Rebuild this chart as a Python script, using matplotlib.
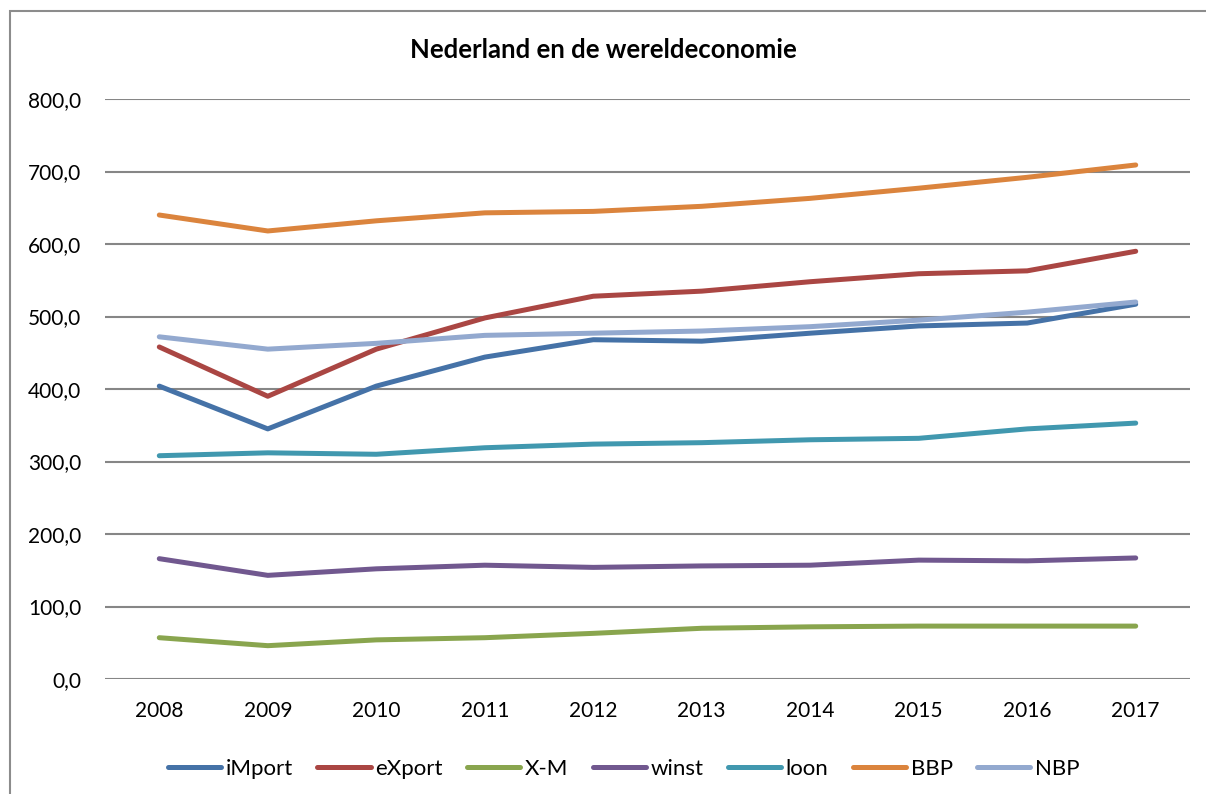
import matplotlib.pyplot as plt
from matplotlib.patches import Rectangle
from matplotlib.ticker import FuncFormatter

plt.rcParams['font.family'] = ['Lato', 'DejaVu Sans']

jaren = ["2008", "2009", "2010", "2011", "2012", "2013", "2014", "2015", "2016", "2017"]

iMport = [404, 345, 404, 444, 468, 466, 477, 487, 491, 517]
eXport = [458, 390, 455, 498, 528, 535, 548, 559, 563, 590]
x_min_m = [57, 46, 54, 57, 63, 70, 72, 73, 73, 73]
winst = [166, 143, 152, 157, 154, 156, 157, 164, 163, 167]
loon = [308, 312, 310, 319, 324, 326, 330, 332, 345, 353]
bbp = [640, 618, 632, 643, 645, 652, 663, 677, 692, 709]
nbp = [472, 455, 463, 474, 477, 480, 486, 495, 506, 520]

reeksen = [
    ("iMport", iMport, "#4572A7"),
    ("eXport", eXport, "#AA4643"),
    ("X-M", x_min_m, "#89A54E"),
    ("winst", winst, "#71588F"),
    ("loon", loon, "#4198AF"),
    ("BBP", bbp, "#DB843D"),
    ("NBP", nbp, "#93A9CF"),
]

fig = plt.figure(figsize=(12.06, 7.94), dpi=100)
ax = fig.add_axes([0.0871, 0.1448, 0.8996, 0.7305])

x = range(len(jaren))
for naam, waarden, kleur in reeksen:
    ax.plot(x, waarden, color=kleur, linewidth=3.6, label=naam,
            solid_capstyle='round', solid_joinstyle='round')

ax.set_xlim(-0.5, len(jaren) - 0.5)
ax.set_ylim(0, 800)
ax.set_yticks(range(0, 801, 100))
ax.yaxis.set_major_formatter(FuncFormatter(lambda v, p: f"{v:.1f}".replace(".", ",")))
ax.set_xticks(list(x))
ax.set_xticklabels(jaren)
ax.grid(axis='y', color='#868686', linewidth=1.5)
ax.set_axisbelow(True)
for s in ax.spines.values():
    s.set_visible(False)
ax.tick_params(axis='both', length=0, labelsize=15, colors='black')
ax.tick_params(axis='y', pad=17)
ax.tick_params(axis='x', pad=16)

fig.text(0.5, 0.937, "Nederland en de wereldeconomie", ha='center', va='center',
         fontsize=18.5, fontweight='bold')

ax.legend(loc='upper center', bbox_to_anchor=(0.478, -0.103), ncol=7, frameon=False,
          fontsize=16, handlelength=2.4, handletextpad=0.2, columnspacing=1.1)

# kader om de grafiek
fig.patches.append(Rectangle((10 / 1206, -0.1), 1.2, 1.1 - 11 / 794,
                             transform=fig.transFigure, fill=False,
                             edgecolor='#8c8c8c', linewidth=1.5))

plt.savefig('out.png', dpi=100)
